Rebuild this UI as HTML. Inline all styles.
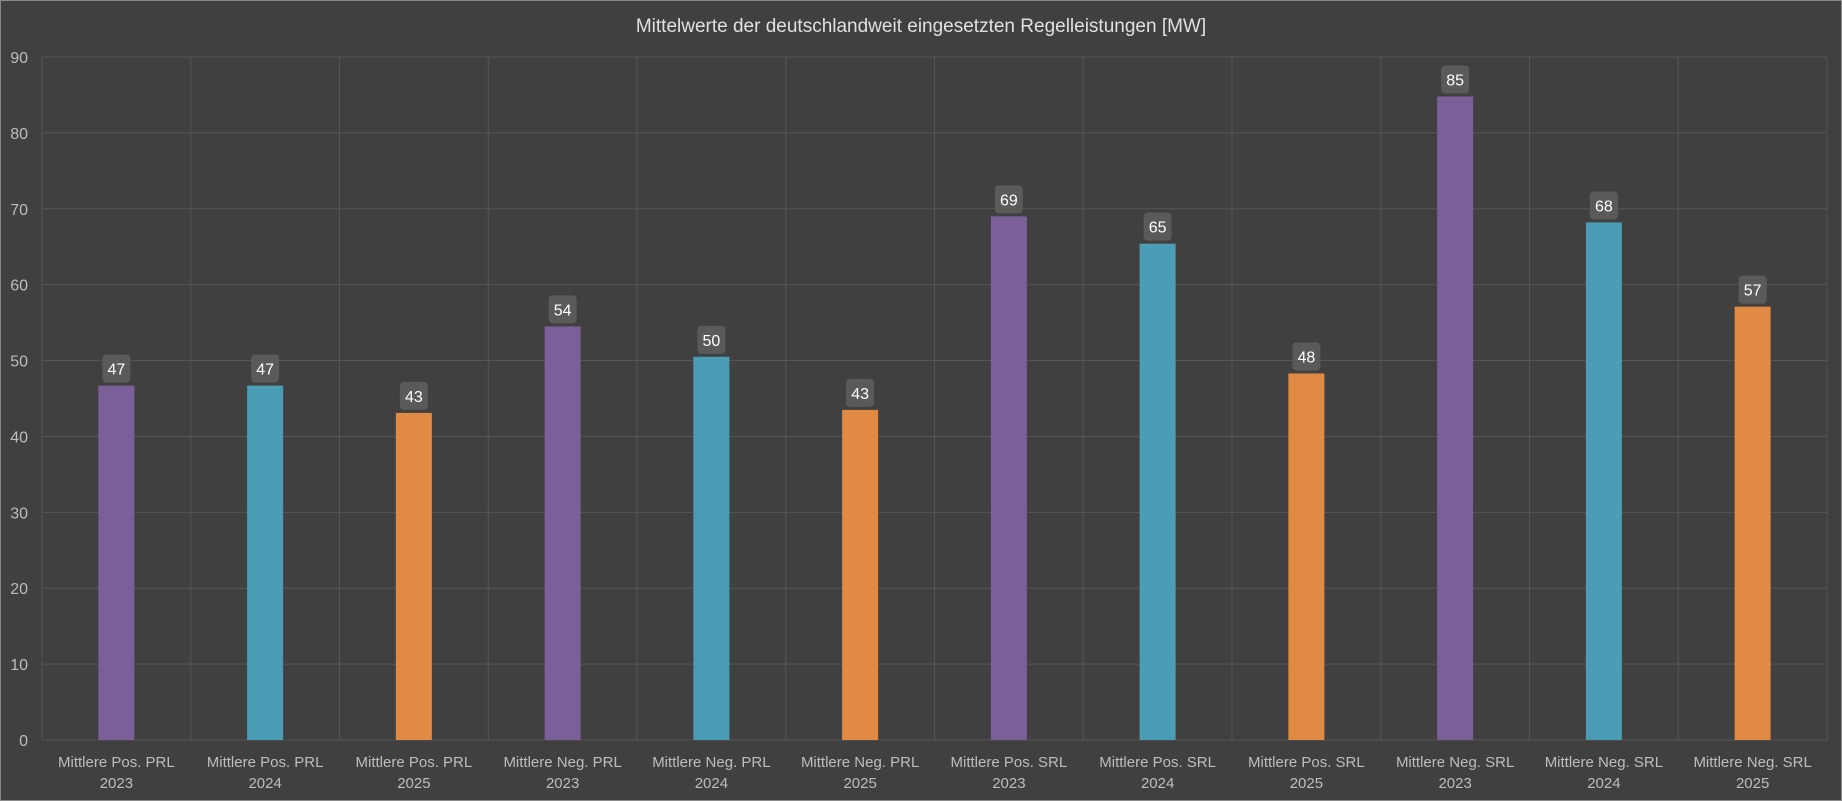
<!DOCTYPE html>
<html><head><meta charset="utf-8"><style>
body{margin:0;background:#404040;}
svg{display:block;font-family:"Liberation Sans",sans-serif;}
</style></head><body>
<svg id="chart" width="1842" height="801">
<rect x="0.5" y="0.5" width="1841" height="800" fill="#404040" stroke="#8a8a8a"/>
<text x="921" y="32" text-anchor="middle" fill="#e0e0e0" font-size="19">Mittelwerte der deutschlandweit eingesetzten Regelleistungen [MW]</text>
<g id="grid"></g><g id="bars"></g><g id="labels"></g>
</svg>
<script>
const categories=["Mittlere Pos. PRL|2023","Mittlere Pos. PRL|2024","Mittlere Pos. PRL|2025","Mittlere Neg. PRL|2023","Mittlere Neg. PRL|2024","Mittlere Neg. PRL|2025","Mittlere Pos. SRL|2023","Mittlere Pos. SRL|2024","Mittlere Pos. SRL|2025","Mittlere Neg. SRL|2023","Mittlere Neg. SRL|2024","Mittlere Neg. SRL|2025"];
const values=[46.7,46.7,43.1,54.5,50.5,43.5,69,65.4,48.3,84.8,68.2,57.1];
const valueLabels=["47","47","43","54","50","43","69","65","48","85","68","57"];
const yTicks=[0,10,20,30,40,50,60,70,80,90];
const colors=["#7b5f99","#4a9db5","#e08a44"];
const L=42,R=1827,T=57,B=740,maxV=90;
const ns="http://www.w3.org/2000/svg";
const y=v=>B-(v/maxV)*(B-T);
const bw=(R-L)/categories.length;
const x=i=>L+bw*i;
function mk(tag,attrs,parent){const e=document.createElementNS(ns,tag);for(const k in attrs)e.setAttribute(k,attrs[k]);document.getElementById(parent).appendChild(e);return e;}
yTicks.forEach(t=>{
  const l=mk('line',{x1:L,x2:R,y1:y(t),y2:y(t),stroke:'#555','stroke-width':1},'grid');
  
  
  const tx=mk('text',{x:28,y:y(t)+6,'text-anchor':'end',fill:'#bdbdbd','font-size':16},'grid');
  tx.textContent=t;
  
  
});
for(let i=0;i<=categories.length;i++){
  const l=mk('line',{x1:x(i),x2:x(i),y1:T,y2:B,stroke:'#555','stroke-width':1},'grid');
  
  
}
categories.forEach((c,i)=>{
  const cx=x(i)+bw/2,w=36,top=y(values[i]);
  const r=mk('rect',{x:cx-w/2,y:top,width:w,height:B-top,fill:colors[i%3]},'bars');
  
  
  const bx=mk('rect',{x:cx-14,y:top-31,width:28,height:28,rx:4,fill:'#5a5a5a'},'labels');
  
  
  const vt=mk('text',{x:cx,y:top-11,'text-anchor':'middle',fill:'#fff','font-size':16},'labels');
  vt.textContent=valueLabels[i];
  
  
  const parts=c.split('|');
  parts.forEach((p,j)=>{
    const t=mk('text',{x:cx,y:767+j*21,'text-anchor':'middle',fill:'#bdbdbd','font-size':15},'labels');
    t.textContent=p;
    
    
  });
});
</script>
</body></html>
